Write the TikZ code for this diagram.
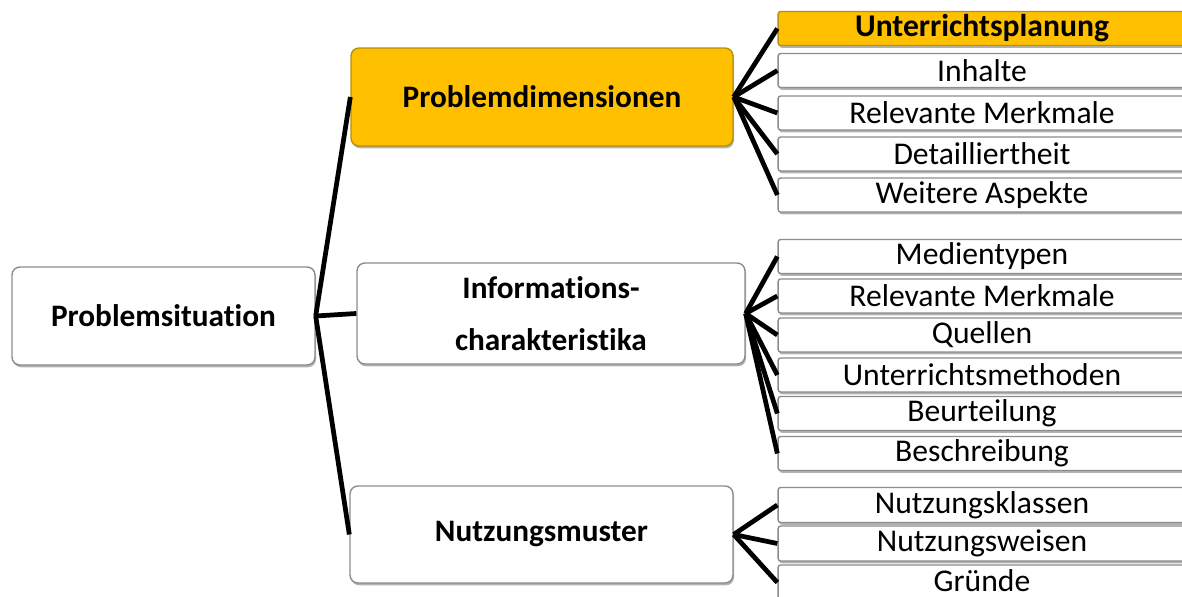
\documentclass[tikz,border=0pt]{standalone}
\usepackage{fontspec}
\setmainfont{Carlito}[Ligatures=NoCommon]
\usetikzlibrary{shadows}

\definecolor{gold}{HTML}{FFC000}
\definecolor{goldline}{HTML}{B8900A}
\definecolor{boxline}{HTML}{8C8C8C}

\tikzset{
  boxshadow/.style={drop shadow={shadow xshift=.6pt, shadow yshift=-1.3pt, fill=black, opacity=.3}},
  mainbox/.style={draw=boxline, line width=.8pt, fill=white, rounded corners=4.5pt,
    minimum height=1.96cm, inner sep=0pt, boxshadow,
    font=\fontsize{17.8}{21}\selectfont\bfseries},
  subbox/.style={draw=boxline, line width=.8pt, fill=white, rounded corners=1.5pt,
    minimum width=8.16cm, minimum height=.68cm, inner sep=0pt, boxshadow,
    font=\fontsize{18}{21}\selectfont},
  hot/.style={fill=gold, draw=goldline},
  link/.style={line width=2.7pt}
}

\begin{document}
\begin{tikzpicture}[x=0.02cm, y=-0.02cm]
  \useasboundingbox (0,0) rectangle (1182,597);
  \clip (0,0) rectangle (1182,597);

  % left and middle column
  \node[mainbox, minimum width=6.06cm] (ps) at (163.5, 316) {Problemsituation};
  \node[mainbox, hot, minimum width=7.64cm] (pd) at (542, 97) {Problemdimensionen};
  \node[mainbox, minimum width=7.76cm, minimum height=2.02cm, align=center] (ic) at (551, 313.5)
    {Informations-\\[9pt]charakteristika};
  \node[mainbox, minimum width=7.66cm, minimum height=1.94cm] (nm) at (541.5, 534.5) {Nutzungsmuster};

  % right column
  \node[subbox, hot, font=\fontsize{18}{21}\selectfont\bfseries] (d1) at (982, 28.5) {Unterrichtsplanung};
  \node[subbox] (d2) at (982, 70.5) {Inhalte};
  \node[subbox] (d3) at (982, 113) {Relevante Merkmale};
  \node[subbox] (d4) at (982, 154) {Detailliertheit};
  \node[subbox] (d5) at (982, 195) {Weitere Aspekte};

  \node[subbox] (i1) at (982, 256.5) {Medientypen};
  \node[subbox] (i2) at (982, 296) {Relevante Merkmale};
  \node[subbox] (i3) at (982, 335) {Quellen};
  \node[subbox] (i4) at (982, 375) {Unterrichtsmethoden};
  \node[subbox] (i5) at (982, 413.5) {Beurteilung};
  \node[subbox] (i6) at (982, 453.5) {Beschreibung};

  \node[subbox, minimum height=.7cm] (n1) at (982, 505) {Nutzungsklassen};
  \node[subbox, minimum height=.7cm] (n2) at (982, 543.5) {Nutzungsweisen};
  \node[subbox, minimum height=.7cm] (n3) at (982, 582.5) {\raisebox{2pt}{Gründe}};

  % connectors
  \path[link] (ps.east) edge (pd.west) edge (ic.west) edge (nm.west);
  \path[link] (pd.east) edge (d1.west) edge (d2.west) edge (d3.west) edge (d4.west) edge (d5.west);
  \path[link] (ic.east) edge (i1.west) edge (i2.west) edge (i3.west) edge (i4.west) edge (i5.west) edge (i6.west);
  \path[link] (nm.east) edge (n1.west) edge (n2.west) edge (n3.west);
\end{tikzpicture}
\end{document}
